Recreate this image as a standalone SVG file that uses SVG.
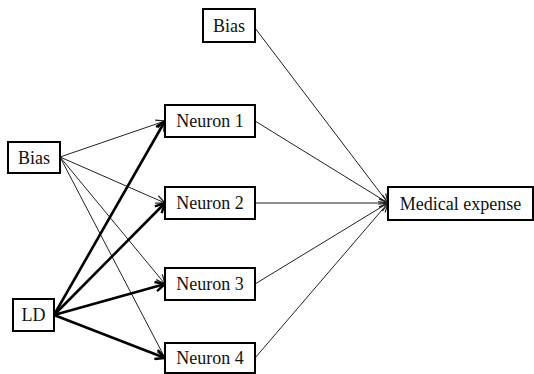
<svg xmlns="http://www.w3.org/2000/svg" width="534" height="374" viewBox="0 0 534 374">
<defs>
<style>
.box{fill:#fff;stroke:#000;stroke-width:2}
.t{font-size:18px;fill:#111;text-anchor:middle}
.thin{stroke:#222;stroke-width:1;fill:none}
.thick{stroke:#000;stroke-width:2.6;fill:none}
</style>
<marker id="a1" viewBox="0 0 10 10" refX="10" refY="5" markerWidth="10" markerHeight="10" markerUnits="userSpaceOnUse" orient="auto">
<path d="M1,1 L10,5 L1,9" fill="none" stroke="#222" stroke-width="1.2"/>
</marker>
<marker id="a2" viewBox="0 0 10 10" refX="9" refY="5" markerWidth="12" markerHeight="12" markerUnits="userSpaceOnUse" orient="auto">
<path d="M1,1 L9,5 L1,9" fill="none" stroke="#000" stroke-width="2"/>
</marker>
</defs>
<g id="connectors">
<line class="thin" x1="60" y1="157" x2="165" y2="121" marker-end="url(#a1)"/>
<line class="thin" x1="60" y1="157" x2="165" y2="203" marker-end="url(#a1)"/>
<line class="thin" x1="60" y1="157" x2="165" y2="284" marker-end="url(#a1)"/>
<line class="thin" x1="60" y1="157" x2="165" y2="358" marker-end="url(#a1)"/>
<line class="thick" x1="54" y1="315" x2="165" y2="121" marker-end="url(#a2)"/>
<line class="thick" x1="54" y1="315" x2="165" y2="203" marker-end="url(#a2)"/>
<line class="thick" x1="54" y1="315" x2="165" y2="284" marker-end="url(#a2)"/>
<line class="thick" x1="54" y1="315" x2="165" y2="358" marker-end="url(#a2)"/>
<line class="thin" x1="255" y1="28" x2="388" y2="203" marker-end="url(#a1)"/>
<line class="thin" x1="255" y1="121" x2="388" y2="203" marker-end="url(#a1)"/>
<line class="thin" x1="255" y1="203" x2="388" y2="203" marker-end="url(#a1)"/>
<line class="thin" x1="255" y1="284" x2="388" y2="203" marker-end="url(#a1)"/>
<line class="thin" x1="255" y1="358" x2="388" y2="203" marker-end="url(#a1)"/>
</g>
<g font-family="Liberation Serif, DejaVu Serif, serif">
<g id="bias-top"><rect class="box" x="203" y="9" width="52" height="33"/><text class="t" x="229" y="32">Bias</text></g>
<g id="bias-left"><rect class="box" x="8" y="142" width="52" height="31"/><text class="t" x="34" y="164">Bias</text></g>
<g id="ld"><rect class="box" x="13" y="299" width="41" height="32"/><text class="t" x="33.5" y="321">LD</text></g>
<g id="neuron1"><rect class="box" x="165" y="105" width="90" height="32"/><text class="t" x="210" y="127">Neuron 1</text></g>
<g id="neuron2"><rect class="box" x="165" y="187" width="90" height="32"/><text class="t" x="210" y="209">Neuron 2</text></g>
<g id="neuron3"><rect class="box" x="165" y="268" width="90" height="32"/><text class="t" x="210" y="290">Neuron 3</text></g>
<g id="neuron4"><rect class="box" x="165" y="343" width="90" height="30"/><text class="t" x="210" y="364">Neuron 4</text></g>
<g id="medical"><rect class="box" x="388" y="187" width="145" height="33"/><text class="t" x="460.5" y="209.5">Medical expense</text></g>
</g>
</svg>
